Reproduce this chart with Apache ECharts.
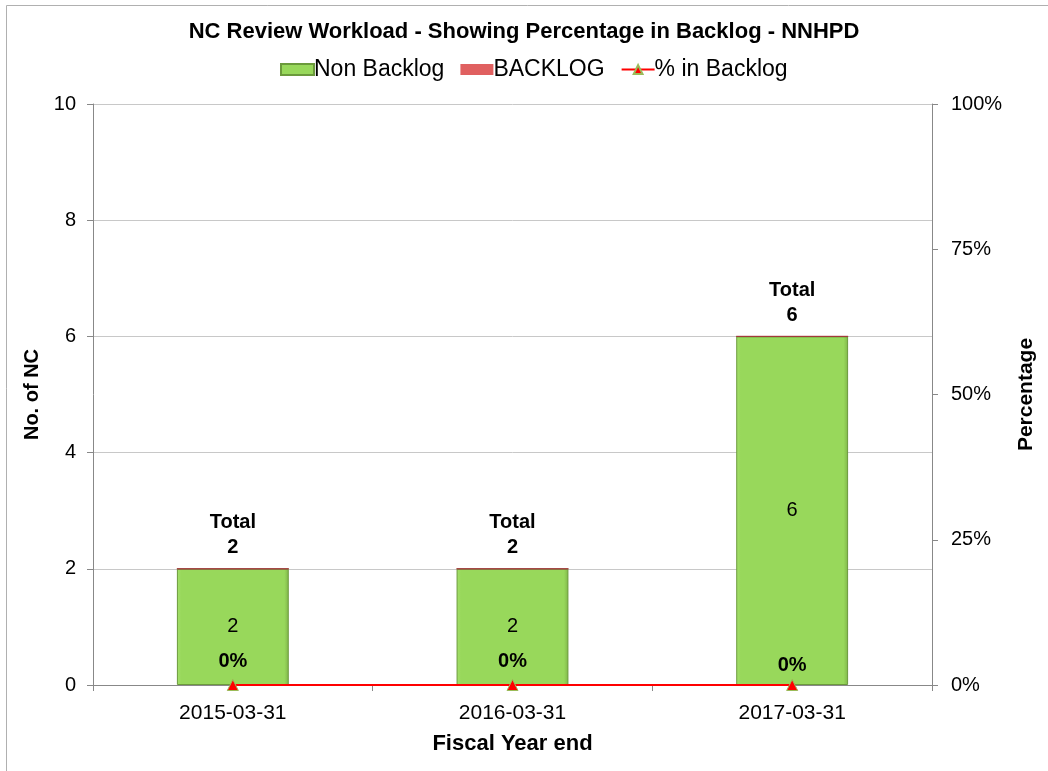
<!DOCTYPE html>
<html>
<head>
<meta charset="utf-8">
<script src="https://cdn.jsdelivr.net/npm/echarts@6/dist/echarts.min.js"></script>
<style>html,body{margin:0;padding:0;background:#fff;}#c{width:1048px;height:771px;}</style>
</head>
<body>
<div id="c"></div>
<script>
const categories = ['2015-03-31', '2016-03-31', '2017-03-31'];
const nonBacklog = [2, 2, 6];
const backlog = [0, 0, 0];
const pctBacklog = [0, 0, 0];
const totals = [2, 2, 6];
const leftTicks = [0, 2, 4, 6, 8, 10];
const rightTicks = [0, 25, 50, 75, 100];

const font = '"Liberation Sans", Arial, sans-serif';
const chart = echarts.init(document.getElementById('c'));
chart.setOption({
  backgroundColor: '#fff',
  animation: false,
  textStyle: { fontFamily: font },
  graphic: [{
    type: 'rect', left: 4, top: 3, silent: true,
    shape: { width: 1100, height: 800 },
    style: { fill: 'none', stroke: '#b0b0b0', lineWidth: 1 }
  }],
  title: {
    text: 'NC Review Workload - Showing Percentage in Backlog - NNHPD',
    left: 'center', top: 16,
    textStyle: { fontFamily: font, fontSize: 22, fontWeight: 'bold', color: '#000' }
  },
  legend: {
    top: 53, left: 275, itemWidth: 33, itemHeight: 11, itemGap: 16,
    textStyle: { fontFamily: font, fontSize: 23, color: '#000', padding: [0, 0, 0, -5] },
    data: [
      { name: 'Non Backlog', icon: 'rect' },
      { name: 'BACKLOG', icon: 'rect' },
      { name: '% in Backlog' }
    ]
  },
  grid: { left: 93, right: 116, top: 104, bottom: 86 },
  xAxis: {
    type: 'category', data: categories,
    name: 'Fiscal Year end', nameLocation: 'middle', nameGap: 48,
    nameTextStyle: { fontFamily: font, fontSize: 22, fontWeight: 'bold', color: '#000' },
    axisLine: { lineStyle: { color: '#888' } },
    axisTick: { show: true, alignWithLabel: false, length: 6, lineStyle: { color: '#888' } },
    axisLabel: { fontFamily: font, fontSize: 21, color: '#000', margin: 18 }
  },
  yAxis: [{
    type: 'value', min: 0, max: 10, interval: 2,
    name: 'No. of NC', nameLocation: 'middle', nameGap: 39, nameRotate: 90,
    nameTextStyle: { fontFamily: font, fontSize: 20, fontWeight: 'bold', color: '#000' },
    axisLine: { show: true, lineStyle: { color: '#888' } },
    axisTick: { show: true, length: 6, lineStyle: { color: '#888' } },
    axisLabel: { fontFamily: font, fontSize: 20, color: '#000', margin: 17 },
    splitLine: { lineStyle: { color: '#c8c8c8' } }
  }, {
    type: 'value', min: 0, max: 100, interval: 25,
    name: 'Percentage', nameLocation: 'middle', nameGap: 84, nameRotate: 90,
    nameTextStyle: { fontFamily: font, fontSize: 21, fontWeight: 'bold', color: '#000' },
    axisLine: { show: true, lineStyle: { color: '#888' } },
    axisTick: { show: true, length: 6, lineStyle: { color: '#888' } },
    axisLabel: { fontFamily: font, fontSize: 20, color: '#000', margin: 19, formatter: '{value}%' },
    splitLine: { show: false }
  }],
  series: [{
    name: 'Non Backlog', type: 'bar', stack: 'a', data: nonBacklog, barWidth: '40%',
    itemStyle: {
      color: new echarts.graphic.LinearGradient(0, 0, 1, 0, [
        { offset: 0, color: '#a4df6a' }, { offset: 0.04, color: '#98d85b' },
        { offset: 0.96, color: '#98d85b' }, { offset: 1, color: '#7fb548' }]),
      borderColor: '#6b9a3c', borderWidth: 1
    },
    label: { show: true, position: 'inside', fontFamily: font, fontSize: 20, color: '#000' }
  }, {
    name: 'BACKLOG', type: 'bar', stack: 'a', data: backlog, barWidth: '40%',
    itemStyle: { color: '#e06060', borderColor: '#a03a3a' },
    label: {
      show: true, position: 'top', distance: 8, fontFamily: font, fontSize: 20, fontWeight: 'bold',
      color: '#000', lineHeight: 25,
      formatter: p => 'Total\n' + totals[p.dataIndex]
    }
  }, {
    name: '% in Backlog', type: 'line', yAxisIndex: 1,
    data: pctBacklog.map((v, i) => i === 2 ? { value: v, label: { distance: 4 } } : v),
    symbol: 'triangle', symbolSize: 11,
    lineStyle: { color: '#ff0000', width: 2 },
    itemStyle: { color: '#ff0000', borderColor: '#9bbb59', borderWidth: 1 },
    label: { show: true, position: 'top', distance: 8, fontFamily: font, fontSize: 20, fontWeight: 'bold', color: '#000', formatter: '{c}%' },
    z: 5
  }]
});
</script>
</body>
</html>
